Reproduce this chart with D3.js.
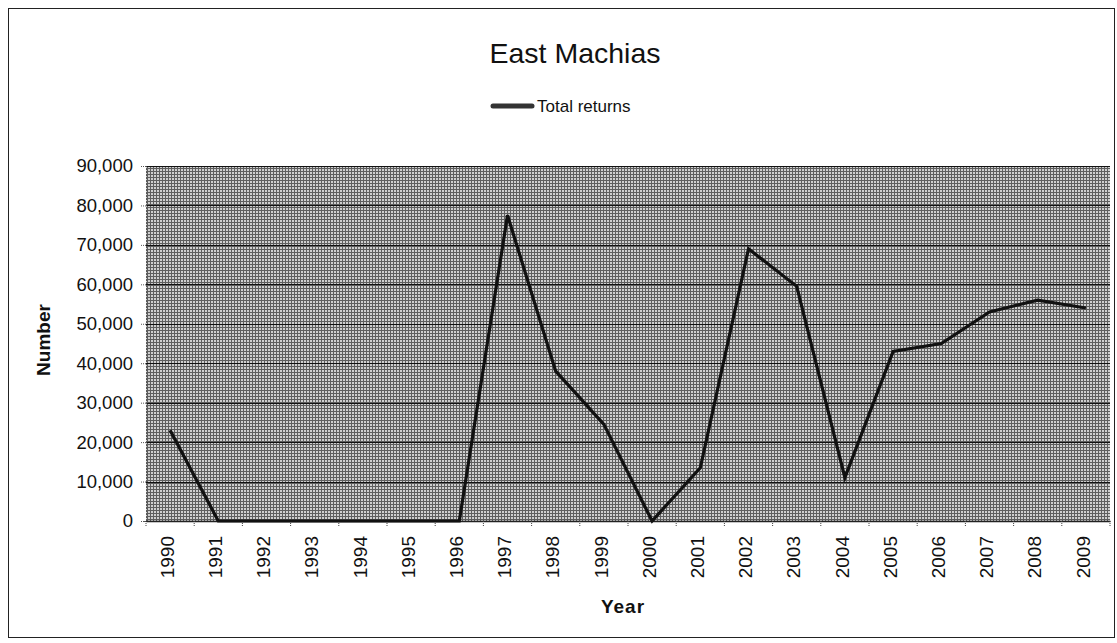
<!DOCTYPE html>
<html>
<head>
<meta charset="utf-8">
<script src="https://cdn.jsdelivr.net/npm/d3@7"></script>
<style>
  html, body { margin: 0; padding: 0; background: #fff; }
  svg { display: block; font-family: "Liberation Sans", Arial, sans-serif; }
</style>
</head>
<body>
<svg id="chart" width="1117" height="643"></svg>
<script>
const years = ["1990","1991","1992","1993","1994","1995","1996","1997","1998","1999",
               "2000","2001","2002","2003","2004","2005","2006","2007","2008","2009"];
const totalReturns = [23000, 0, 0, 0, 0, 0, 0, 77500, 38000, 24500,
                      0, 13500, 69000, 59500, 11000, 43000, 45000, 53000, 56000, 54000];
const yTicks = [0, 10000, 20000, 30000, 40000, 50000, 60000, 70000, 80000, 90000];
const chartTitle = "East Machias";
const seriesName = "Total returns";
const xTitle = "Year";
const yTitle = "Number";

const svg = d3.select("#chart");
const plot = {left: 146, right: 1110, top: 166, bottom: 521};

// outer border
svg.append("rect").attr("x", 8.5).attr("y", 8.5).attr("width", 1106).attr("height", 629)
  .attr("fill", "none").attr("stroke", "#222").attr("stroke-width", 1);

// dithered pattern
const defs = svg.append("defs");
const pat = defs.append("pattern").attr("id", "dots").attr("patternUnits", "userSpaceOnUse")
  .attr("width", 3).attr("height", 3);
pat.append("rect").attr("width", 3).attr("height", 3).attr("fill", "#5e5e5e");
pat.append("rect").attr("x", 1).attr("y", 1).attr("width", 2).attr("height", 2).attr("fill", "#cfcfcf");

const x = d3.scaleBand().domain(years).range([plot.left, plot.right]).paddingInner(0).paddingOuter(0);
const y = d3.scaleLinear().domain([0, 90000]).range([plot.bottom, plot.top]);

svg.append("rect").attr("x", plot.left).attr("y", plot.top)
  .attr("width", plot.right - plot.left).attr("height", plot.bottom - plot.top)
  .attr("fill", "url(#dots)");

// gridlines
svg.append("g").selectAll("line").data(yTicks).join("line")
  .attr("x1", plot.left).attr("x2", plot.right)
  .attr("y1", d => Math.round(y(d)) + 0.5).attr("y2", d => Math.round(y(d)) + 0.5)
  .attr("stroke", "#111").attr("stroke-width", 1.2);

// y axis
const yAxis = d3.axisLeft(y).tickValues(yTicks).tickFormat(d3.format(",")).tickSize(5).tickPadding(8);
const gy = svg.append("g").attr("transform", `translate(${plot.left},0)`).call(yAxis);
gy.select(".domain").attr("stroke", "#555").attr("stroke-dasharray", "1,2");
gy.selectAll(".tick line").attr("stroke", "#555").attr("stroke-dasharray", "1,1");
gy.selectAll("text").attr("font-size", 18.5).attr("fill", "#111")
  .attr("font-family", "'Liberation Sans', Arial, sans-serif");

// x axis
const xAxis = d3.axisBottom(x).tickSize(0).tickPadding(0);
const gx = svg.append("g").attr("transform", `translate(0,${plot.bottom})`).call(xAxis);
gx.select(".domain").attr("stroke", "#222").attr("stroke-width", 1.5);
gx.selectAll("text")
  .attr("font-size", 19).attr("fill", "#111")
  .attr("font-family", "'Liberation Sans', Arial, sans-serif")
  .attr("text-anchor", "end")
  .attr("transform", "translate(-3,15) rotate(-90)")
  .attr("x", 0).attr("y", 0).attr("dy", "0.35em");
// category boundary ticks
const bounds = years.map(d => x(d)).concat([plot.right]);
svg.append("g").selectAll("line").data(bounds).join("line")
  .attr("x1", d => d).attr("x2", d => d)
  .attr("y1", plot.bottom).attr("y2", plot.bottom + 6)
  .attr("stroke", "#444").attr("stroke-dasharray", "1,1");

// line
const line = d3.line()
  .x((d, i) => x(years[i]) + x.bandwidth() / 2)
  .y(d => y(d));
svg.append("path").datum(totalReturns)
  .attr("d", line).attr("fill", "none")
  .attr("stroke", "#111").attr("stroke-width", 3.2).attr("stroke-linejoin", "miter");

// title
svg.append("text").attr("x", 575).attr("y", 63).attr("text-anchor", "middle")
  .attr("font-size", 28.5).attr("fill", "#111").text(chartTitle);

// legend
svg.append("line").attr("x1", 493).attr("x2", 532).attr("y1", 106).attr("y2", 106)
  .attr("stroke", "#333").attr("stroke-width", 5).attr("stroke-linecap", "round");
svg.append("text").attr("x", 537).attr("y", 112).attr("font-size", 17).attr("fill", "#111")
  .text(seriesName);

// axis titles
svg.append("text").attr("x", 623).attr("y", 613).attr("text-anchor", "middle")
  .attr("font-size", 19).attr("font-weight", "bold").attr("letter-spacing", 1)
  .attr("fill", "#111").text(xTitle);
svg.append("text").attr("transform", "translate(50,340) rotate(-90)")
  .attr("text-anchor", "middle").attr("font-size", 19).attr("font-weight", "bold")
  .attr("fill", "#111").text(yTitle);
</script>
</body>
</html>
